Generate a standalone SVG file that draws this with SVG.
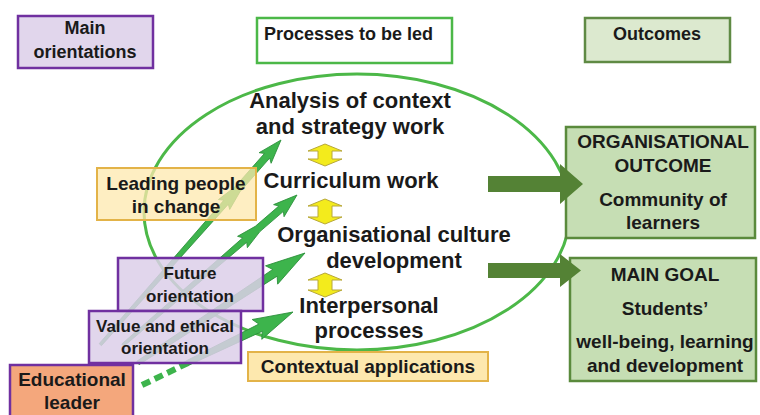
<svg xmlns="http://www.w3.org/2000/svg" width="760" height="415" viewBox="0 0 760 415">
<defs>
<style>
text{font-family:"Liberation Sans",Arial,sans-serif;font-weight:bold;fill:#1a1a1a;text-anchor:middle}
.big{font-size:22px}
.b19{font-size:19px}
.b18{font-size:18px}
.b17{font-size:17px}
.purple{fill:#dccfe9;fill-opacity:0.85;stroke:#7030a0;stroke-width:2.5}
.yellow{fill:#fde8ae;stroke:#e3b348;stroke-width:2}
.outc{fill:#c6deb4;stroke:#5a8a3c;stroke-width:2.5}
.garrow{fill:#3db44c;stroke:#2b8f3a;stroke-width:0.8}
.darrow{fill:#548235}
.yarrow{fill:#f3eb1c;stroke:#b8a838;stroke-width:1}
</style>
</defs>
<rect width="760" height="415" fill="#ffffff"/>

<!-- header boxes -->
<g id="main-orientations">
<rect x="18" y="16" width="135" height="52" class="purple" fill-opacity="1"/>
<text x="85" y="34" class="b18">Main</text>
<text x="85" y="58" class="b18">orientations</text>
</g>
<g id="processes-header">
<rect x="257" y="18" width="195" height="45" fill="#ffffff" stroke="#4cb848" stroke-width="2.5"/>
<text x="264" y="40" class="b18" style="text-anchor:start">Processes to be led</text>
</g>
<g id="outcomes-header">
<rect x="585" y="18" width="145" height="44" fill="#dce9cf" stroke="#5f8a44" stroke-width="2.5"/>
<text x="657" y="40" class="b18">Outcomes</text>
</g>

<!-- process cycle -->
<g id="process-cycle">
<ellipse cx="357" cy="212" rx="213" ry="138" fill="none" stroke="#4cb848" stroke-width="3"/>
</g>

<g id="connectors">
<!-- green arrows from leader -->
<g transform="translate(281,140) rotate(-48.56)">
<polygon class="garrow" points="0,0 -24,-8 -21,-3.5 -66,-3.5 -86,-7.5 -83,-3 -273,-1.5 -273,1.5 -83,3 -86,7.5 -66,3.5 -21,3.5 -24,8"/>
</g>
<g transform="translate(297,195) rotate(-40.76)">
<polygon class="garrow" points="0,0 -24,-8 -21,-3.5 -52,-3.5 -72,-7.5 -69,-3 -230,-1.5 -230,1.5 -69,3 -72,7.5 -52,3.5 -21,3.5 -24,8"/>
</g>
<g transform="translate(305,253) rotate(-33.35)">
<polygon class="garrow" points="0,0 -40,-11 -36,-4 -200,-2 -200,2 -36,4 -40,11"/>
</g>
<g transform="translate(293,312) rotate(-25.81)">
<polygon class="garrow" points="0,0 -40,-11 -36,-4 -117,-2.5 -117,2.5 -36,4 -40,11"/>
</g>
<line x1="188" y1="363" x2="138" y2="387" stroke="#3db44c" stroke-width="6" stroke-dasharray="9 5"/>
</g>

<!-- left boxes -->
<g id="leading-people">
<rect x="97" y="168" width="159" height="52" class="yellow" fill-opacity="0.75"/>
<text x="176" y="190" class="b19">Leading people</text>
<text x="176" y="213" class="b19">in change</text>
</g>
<g id="future-orientation">
<rect x="118" y="258" width="145" height="53" class="purple"/>
<text x="190" y="279" class="b17">Future</text>
<text x="190" y="302" class="b17">orientation</text>
</g>
<g id="value-orientation">
<rect x="89" y="311" width="152" height="52" class="purple"/>
<text x="165" y="332" class="b17">Value and ethical</text>
<text x="165" y="354" class="b17">orientation</text>
</g>
<g id="educational-leader">
<rect x="10" y="365" width="123" height="60" fill="#f4a77c" stroke="#7030a0" stroke-width="2.5"/>
<text x="72" y="386" class="b19">Educational</text>
<text x="72" y="409" class="b19">leader</text>
</g>
<g id="contextual-applications">
<rect x="248" y="352" width="240" height="29" class="yellow" fill="#fde59c"/>
<text x="368" y="373" class="b19">Contextual applications</text>
</g>

<!-- process texts -->
<g id="analysis">
<text x="350" y="108" class="big">Analysis of context</text>
<text x="350" y="134" class="big">and strategy work</text>
</g>
<g id="curriculum">
<text x="351" y="188" class="big">Curriculum work</text>
</g>
<g id="culture">
<text x="394" y="242" class="big">Organisational culture</text>
<text x="394" y="268" class="big">development</text>
</g>
<g id="interpersonal">
<text x="369" y="313" class="big">Interpersonal</text>
<text x="369" y="338" class="big">processes</text>
</g>

<!-- outcome boxes -->
<g id="organisational-outcome">
<rect x="566" y="127" width="189" height="111" class="outc"/>
<text x="663" y="148" class="b19">ORGANISATIONAL</text>
<text x="663" y="172" class="b19">OUTCOME</text>
<text x="663" y="206" class="b19">Community of</text>
<text x="663" y="229" class="b19">learners</text>
</g>
<g id="main-goal">
<rect x="570" y="258" width="186" height="123" class="outc"/>
<text x="665" y="281" class="b19">MAIN GOAL</text>
<text x="665" y="315" class="b19">Students’</text>
<text x="665" y="348" class="b19">well-being, learning</text>
<text x="665" y="372" class="b19">and development</text>
</g>

<g id="connectors-2">
<!-- yellow double arrows -->
<polygon class="yarrow" points="325,144 342,151 332,151 332,159 342,159 325,166 308,159 318,159 318,151 308,151"/>
<polygon class="yarrow" points="325,199 342,206 332,206 332,217 342,217 325,224 308,217 318,217 318,206 308,206"/>
<polygon class="yarrow" points="325,273 342,280 332,280 332,290 342,290 325,297 308,290 318,290 318,280 308,280"/>
<!-- dark green outcome arrows -->
<polygon class="darrow" points="488,176 560,176 560,164 583,184 560,204 560,192 488,192"/>
<polygon class="darrow" points="488,263 560,263 560,254 581,270.5 560,287 560,278 488,278"/>
</g>
</svg>
